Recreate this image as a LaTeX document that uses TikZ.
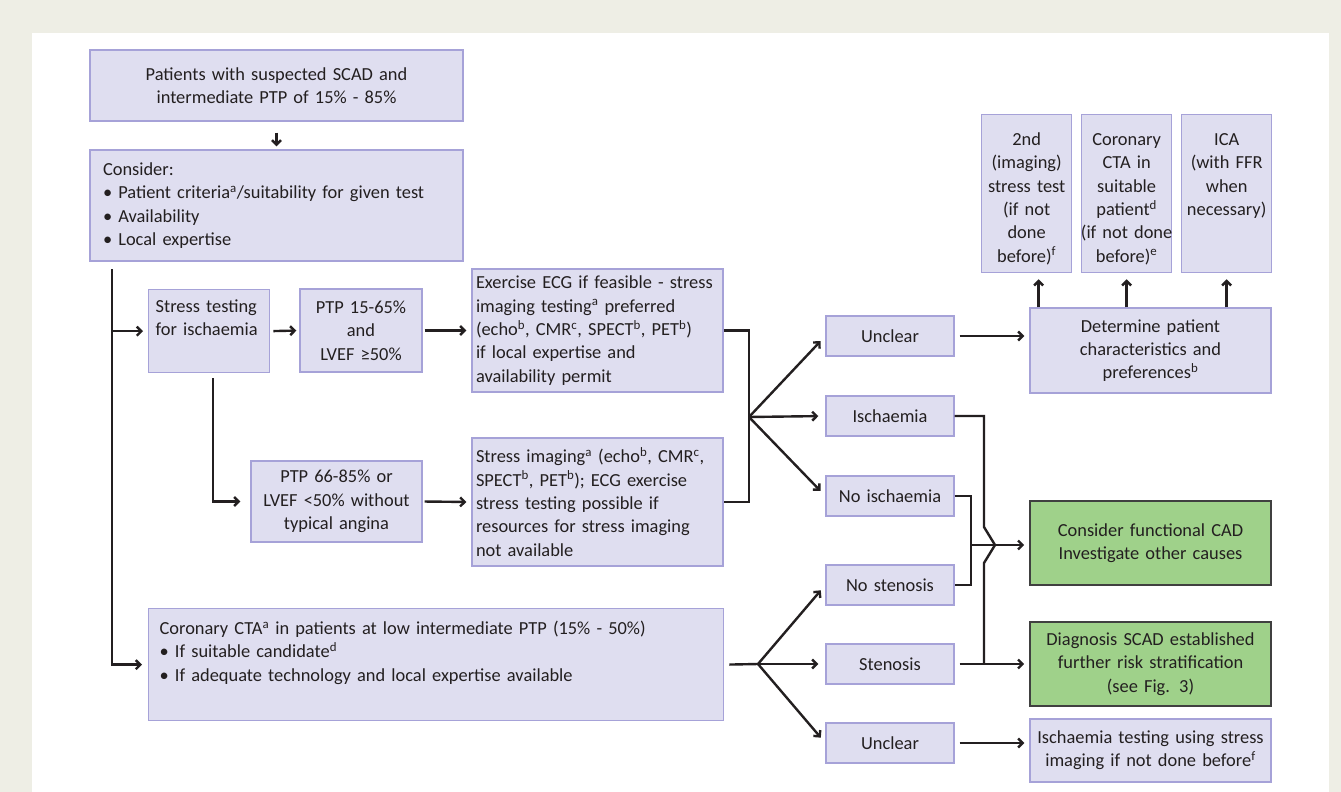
\documentclass[tikz,border=0pt]{standalone}
\usepackage{fontspec}
\setmainfont{Carlito}
\usepackage{tikz}
\usetikzlibrary{calc,arrows.meta}
\definecolor{page}{HTML}{EEEEE5}
\definecolor{boxfill}{HTML}{DFDEF0}
\definecolor{boxline}{HTML}{A6A2D8}
\definecolor{okfill}{HTML}{9FD18A}
\definecolor{okline}{HTML}{404040}
\definecolor{ink}{HTML}{231F20}
\hyphenpenalty=10000
\exhyphenpenalty=10000

\begin{document}
\begin{tikzpicture}[x=1pt,y=-1pt,
  font=\fontsize{18.4}{23.3}\selectfont, text=ink,
  >={Straight Barb[length=4.5pt,width=9pt]},
  box/.style={draw=boxline,fill=boxfill,line width=1.3pt,inner sep=0pt},
  gbox/.style={draw=okline,fill=okfill,line width=1.6pt,inner sep=0pt},
  pick/.style={box,text width=128pt,minimum height=40pt,align=center},
  tall/.style={box,anchor=north west,inner xsep=-5pt,text width=100pt,minimum width=90pt,
    align=center,text height=31pt,text depth=127pt},
  wire/.style={draw=ink,line width=2.4pt},
  arr/.style={wire,->,shorten >=5pt}]
% page and panel (in pixels, y downwards)
\fill[page] (0,0) rectangle (1341,792);
\fill[white] (32,33) rectangle (1329,792);

% left column
\node[box,text width=373pt,minimum height=71pt,align=center] (top) at (276.5,85.5)
  {Patients with suspected SCAD and\\intermediate PTP of 15\% - 85\%};
\node[box,inner xsep=13pt,text width=347pt,minimum height=111pt,align=left] (consider) at (276.5,205.5)
  {Consider:\\• Patient criteria\textsuperscript{a}/suitability for given test\\• Availability\\• Local expertise};
\node[box,anchor=north west,inner xsep=7pt,text width=107pt,align=left,text height=23pt,text depth=60pt]
  (stress) at (148,289) {Stress testing\\for ischaemia};
\node[box,text width=122pt,minimum height=83pt,align=center] (ptplow) at (361,330.5)
  {PTP 15-65\%\\and\\LVEF ≥50\%};
\node[box,inner xsep=4pt,text width=243pt,minimum height=123pt,align=left] (exercise) at (597.5,330.5)
  {Exercise ECG if feasible - stress\\imaging testing\textsuperscript{a} preferred\\(echo\textsuperscript{b}, CMR\textsuperscript{c}, SPECT\textsuperscript{b}, PET\textsuperscript{b})\\if local expertise and\\availability permit};
\node[box,text width=171pt,minimum height=81pt,align=center] (ptphigh) at (336.5,501.5)
  {PTP 66-85\% or\\LVEF <50\% without\\typical angina};
\node[box,inner xsep=4pt,text width=243pt,minimum height=128pt,align=left] (imaging) at (597.5,502)
  {Stress imaging\textsuperscript{a} (echo\textsuperscript{b}, CMR\textsuperscript{c},\\SPECT\textsuperscript{b}, PET\textsuperscript{b}); ECG exercise\\stress testing possible if\\resources for stress imaging\\not available};
\node[box,anchor=north west,inner xsep=11pt,text width=553pt,align=left,text height=26pt,text depth=86pt]
  (cta) at (148,608)
  {Coronary CTA\textsuperscript{a} in patients at low intermediate PTP (15\% - 50\%)\\• If suitable candidate\textsuperscript{d}\\• If adequate technology and local expertise available};

% results
\node[pick] (unclA) at (890,336) {Unclear};
\node[pick] (isch) at (890,416) {Ischaemia};
\node[pick] (noisch) at (890,496) {No ischaemia};
\node[pick] (nosten) at (890,585) {No stenosis};
\node[pick] (sten) at (890,664) {Stenosis};
\node[pick] (unclB) at (890,743) {Unclear};

% right column
\node[tall] (second) at (981,114) {2nd\\(imaging)\\stress test\\(if not\\done\\before)\textsuperscript{f}};
\node[tall] (ccta) at (1081,114) {Coronary\\CTA in\\suitable\\patient\textsuperscript{d}\\(if not done\\before)\textsuperscript{e}};
\node[tall] (ica) at (1181,114) {ICA\\(with FFR\\when\\necessary)};
\node[box,text width=241pt,minimum height=85pt,align=center] (det) at (1150.5,350.5)
  {Determine patient\\characteristics and\\preferences\textsuperscript{b}};
\node[gbox,text width=241pt,minimum height=84pt,align=center] (func) at (1150.5,543)
  {Consider functional CAD\\Investigate other causes};
\node[gbox,text width=241pt,minimum height=84pt,align=center] (diag) at (1150.5,664)
  {Diagnosis SCAD established\\further risk stratification\\(see Fig. 3)};
\node[box,text width=241pt,minimum height=63pt,align=center] (ischtest) at (1150.5,750.5)
  {Ischaemia testing using stress\\imaging if not done before\textsuperscript{f}};

% left connectors
\draw[arr,shorten <=11pt,shorten >=3pt] (top.south) -- (consider.north);
\coordinate (spine) at (112,269);
\draw[arr,shorten >=6pt] (spine) |- (cta.west);
\draw[arr] (spine |- stress.west) -- (stress.west);
\draw[arr,shorten <=3pt,shorten >=3pt] (stress.east) -- (ptplow.west);
\draw[arr,shorten <=2pt] (ptplow.east) -- (exercise.west);
\draw[arr,shorten >=10pt] ([xshift=4pt,yshift=-5pt]stress.south) |- (ptphigh.west);
\draw[arr,shorten <=2pt] (ptphigh.east) -- (imaging.west);

% fans
\coordinate (fanA) at (749,417);
\draw[wire] (exercise.east) -| (fanA) |- (imaging.east);
\foreach \n in {unclA,isch,noisch}
  \draw[arr,shorten >=7pt] (fanA) -- (\n.west);
\coordinate (fanB) at (758,664);
\draw[wire,shorten <=5pt] (cta.east) -- (fanB);
\foreach \n in {nosten,sten,unclB}
  \draw[arr,shorten >=7pt] (fanB) -- (\n.west);

% right connectors
\draw[arr,shorten <=5pt] (unclA.east) -- (unclA.east -| det.west);
\draw[arr,shorten <=5pt] (sten.east) -- (diag.west);
\draw[arr,shorten <=5pt] (unclB.east) -- (unclB.east -| ischtest.west);
\coordinate (nojoin) at (971,545);
\draw[wire] (noisch.east) -| (nojoin) |- (nosten.east);
\draw[arr] (nojoin) -- (nojoin -| func.west);
% ischaemia line hops over the no-ischaemia line
\coordinate (hop) at (984,545);
\draw[wire] (isch.east) -| ($(hop)+(0,-18)$) -- ($(hop)+(11,0)$) -- ($(hop)+(0,18)$) -- (hop |- sten.east);
\coordinate (upA) at ($(second.south)+(12,0)$);
\draw[arr,shorten >=6pt] (upA |- det.north) -- (upA);
\draw[arr,shorten >=6pt] (ccta.south |- det.north) -- (ccta.south);
\draw[arr,shorten >=6pt] (ica.south |- det.north) -- (ica.south);
\end{tikzpicture}
\end{document}
